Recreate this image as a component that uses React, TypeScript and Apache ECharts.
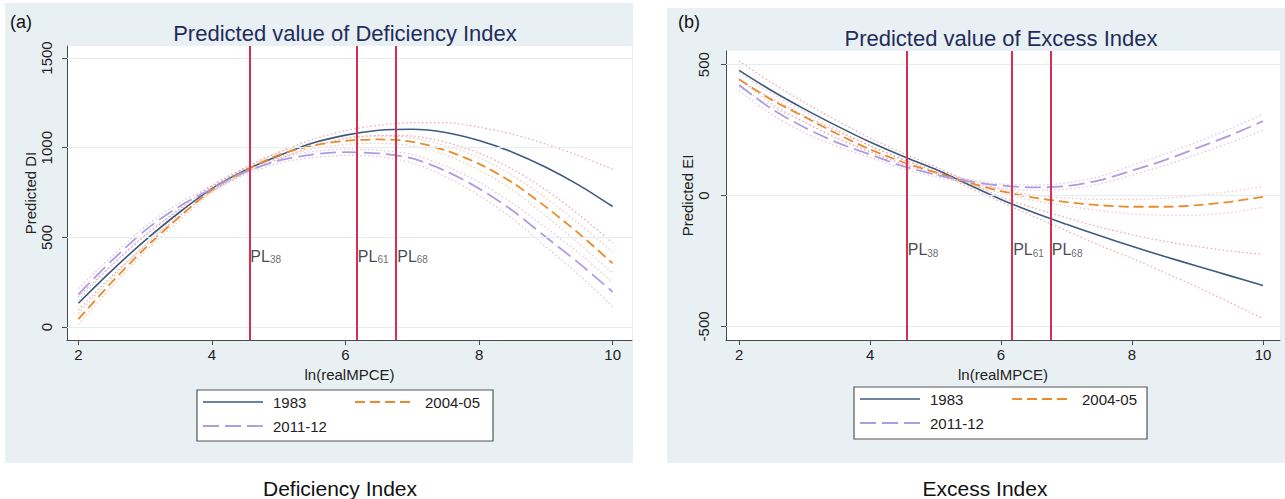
import React, { useEffect, useRef } from "react";
import * as echarts from "echarts";

// ---- data ----
const xs = [2, 2.5, 3, 3.5, 4, 4.5, 5, 5.5, 6, 6.5, 7, 7.5, 8, 8.5, 9, 9.5, 10];
const xTicks = [2, 4, 6, 8, 10];
const diTicks = [0, 500, 1000, 1500];
const eiTicks = [-500, 0, 500];
const povertyLines = [4.56, 6.17, 6.76];
const plLabels = ["38", "61", "68"];
const seriesNames = ["1983", "2004-05", "2011-12"];

// Deficiency Index (predicted + CI bounds)
const di1983 = [133, 315, 483, 636, 772, 875, 955, 1025, 1070, 1097, 1103, 1085, 1040, 975, 891, 790, 672];
const di2004 = [44, 250, 440, 610, 765, 872, 960, 1010, 1038, 1046, 1033, 985, 910, 805, 670, 520, 355];
const di2011 = [183, 370, 539, 670, 772, 865, 928, 962, 975, 968, 940, 870, 772, 650, 502, 355, 196];
const di1983Hi = [170, 345, 510, 655, 790, 890, 975, 1045, 1095, 1125, 1140, 1140, 1115, 1075, 1020, 955, 880];
const di1983Lo = [95, 285, 455, 615, 755, 860, 935, 1005, 1050, 1068, 1065, 1030, 970, 880, 765, 625, 470];
const di2004Hi = [75, 275, 460, 630, 780, 888, 975, 1028, 1058, 1065, 1055, 1010, 945, 845, 720, 575, 420];
const di2004Lo = [15, 225, 420, 590, 750, 858, 945, 992, 1018, 1025, 1010, 960, 875, 765, 620, 465, 300];
const di2011Hi = [215, 395, 560, 690, 785, 880, 942, 978, 992, 985, 962, 897, 808, 690, 555, 410, 250];
const di2011Lo = [150, 345, 515, 650, 760, 850, 913, 945, 957, 950, 915, 838, 735, 605, 448, 290, 115];

// Excess Index (predicted + CI bounds)
const ei1983 = [478, 400, 330, 265, 204, 150, 100, 42, -15, -65, -110, -153, -194, -233, -270, -307, -344];
const ei2004 = [444, 365, 300, 235, 176, 128, 88, 50, 17, -8, -25, -37, -43, -43, -37, -24, -5];
const ei2011 = [422, 330, 260, 202, 157, 112, 80, 55, 38, 31, 36, 58, 95, 135, 182, 230, 284];
const ei1983Hi = [514, 430, 355, 285, 220, 162, 110, 52, -5, -48, -85, -120, -150, -175, -195, -212, -225];
const ei1983Lo = [440, 370, 305, 245, 190, 137, 90, 32, -25, -80, -135, -190, -240, -295, -350, -410, -470];
const ei2004Hi = [470, 390, 320, 252, 190, 140, 100, 60, 25, 2, -10, -15, -15, -10, 0, 15, 35];
const ei2004Lo = [415, 340, 280, 218, 165, 118, 80, 42, 10, -20, -40, -58, -70, -75, -75, -65, -45];
const ei2011Hi = [445, 350, 280, 218, 168, 122, 88, 62, 44, 40, 48, 72, 115, 158, 205, 255, 310];
const ei2011Lo = [400, 310, 240, 187, 146, 103, 72, 48, 28, 20, 24, 44, 78, 115, 158, 202, 250];

const diPLy = 394;
const eiPLy = -207;

// ---- styles ----
const FONT = "'Liberation Sans', Arial, sans-serif";
const NAVY = "#3c5b7f";
const ORANGE = "#ea8a2b";
const LAV = "#ab9de2";
const RED = "#d62f52";
const AXIS = "#4a4a4a";
const TXT = "#222";
const CI_COLORS = ["rgba(214,90,110,0.55)", "rgba(226,140,120,0.5)", "rgba(200,130,190,0.5)"];
const MAIN_STYLES = [
  { color: NAVY, width: 1.6, type: "solid" as any },
  { color: ORANGE, width: 1.8, type: [10, 5] as any },
  { color: LAV, width: 1.8, type: [16, 6] as any },
];

const pairs = (ys: number[]) => xs.map((x, i) => [x, ys[i]]);

function buildSeries(
  idx: number,
  mains: number[][],
  cis: number[][][],
  ticks: number[],
  plY: number
) {
  const out: any[] = [];
  out.push({
    type: "line",
    xAxisIndex: idx,
    yAxisIndex: idx,
    data: [],
    silent: true,
    z: 1,
    markLine: {
      silent: true,
      symbol: "none",
      label: { show: false },
      lineStyle: { color: "#e4edf1", width: 1, type: "solid" },
      data: ticks.map((t) => ({ yAxis: t })),
    },
  });
  cis.forEach((pair, k) => {
    pair.forEach((ys) => {
      out.push({
        type: "line",
        xAxisIndex: idx,
        yAxisIndex: idx,
        data: pairs(ys),
        smooth: 0.3,
        symbol: "none",
        silent: true,
        z: 2,
        lineStyle: { color: CI_COLORS[k], width: 1.2, type: [1.5, 2.5] },
      });
    });
  });
  mains.forEach((ys, k) => {
    out.push({
      type: "line",
      name: seriesNames[k],
      xAxisIndex: idx,
      yAxisIndex: idx,
      data: pairs(ys),
      smooth: 0.3,
      symbol: "none",
      z: 3,
      lineStyle: MAIN_STYLES[k],
    });
  });
  out.push({
    type: "scatter",
    xAxisIndex: idx,
    yAxisIndex: idx,
    symbolSize: 0,
    z: 6,
    data: povertyLines.map((p, i) => ({ value: [p, plY], sub: plLabels[i] })),
    label: {
      show: true,
      position: "right",
      distance: 1,
      formatter: (p: any) => `{a|PL}{b|${p.data.sub}}`,
      rich: {
        a: { fontSize: 16, color: "#15152a", fontFamily: FONT },
        b: { fontSize: 10, color: "#444", fontFamily: FONT, padding: [7, 0, 0, 0] },
      },
    },
    markLine: {
      silent: true,
      symbol: "none",
      label: { show: false },
      lineStyle: { color: RED, width: 2, type: "solid" },
      data: povertyLines.map((p) => ({ xAxis: p })),
    },
  });
  return out;
}

function xAxisCfg(idx: number, min: number, max: number) {
  return {
    gridIndex: idx,
    type: "value",
    min,
    max,
    name: "ln(realMPCE)",
    nameLocation: "middle",
    nameGap: 24,
    nameTextStyle: { fontSize: 15, color: TXT, fontFamily: FONT },
    axisLine: { show: true, onZero: false, lineStyle: { color: AXIS, width: 1 } },
    axisTick: { show: true, customValues: xTicks, length: 5, lineStyle: { color: AXIS } },
    axisLabel: { customValues: xTicks, fontSize: 15, color: TXT, margin: 7, fontFamily: FONT },
    splitLine: { show: false },
  };
}

function yAxisCfg(idx: number, min: number, max: number, ticks: number[], name: string, margin: number, gap: number) {
  return {
    gridIndex: idx,
    type: "value",
    min,
    max,
    name,
    nameLocation: "middle",
    nameGap: gap,
    nameTextStyle: { fontSize: 15, color: TXT, fontFamily: FONT },
    axisLine: { show: true, onZero: false, lineStyle: { color: AXIS, width: 1 } },
    axisTick: { show: true, customValues: ticks, length: 5, lineStyle: { color: AXIS } },
    axisLabel: {
      customValues: ticks,
      fontSize: 15,
      color: TXT,
      margin,
      rotate: 90,
      fontFamily: FONT,
      formatter: (v: number) => String(v),
    },
    splitLine: { show: false },
  };
}

function legendGraphic(x: number, y: number, w: number, h: number) {
  const row1 = y + 12;
  const row2 = y + 36;
  const c1 = x + 6;
  const c2 = x + 158;
  const items: any[] = [
    { type: "rect", shape: { x, y, width: w, height: h }, style: { fill: "#fff", stroke: "#555", lineWidth: 1.2 } },
  ];
  const pos = [
    [c1, row1],
    [c2, row1],
    [c1, row2],
  ];
  seriesNames.forEach((n, k) => {
    const [lx, ly] = pos[k];
    items.push({
      type: "line",
      shape: { x1: lx, y1: ly, x2: lx + 60, y2: ly },
      style: { stroke: MAIN_STYLES[k].color, lineWidth: MAIN_STYLES[k].width, lineDash: k === 0 ? null : MAIN_STYLES[k].type },
    });
    items.push({
      type: "text",
      x: lx + 70,
      y: ly,
      style: { text: n, fontSize: 15, fill: TXT, fontFamily: FONT, verticalAlign: "middle", align: "left" },
    });
  });
  return items;
}

const App: React.FC = () => {
  const ref = useRef<HTMLDivElement>(null);
  useEffect(() => {
    if (!ref.current) return;
    const chart = echarts.init(ref.current, undefined, { renderer: "svg" });
    const option: any = {
      animation: false,
      textStyle: { fontFamily: FONT },
      grid: [
        { left: 67, top: 46, width: 565, height: 294, show: true, backgroundColor: "#fff", borderWidth: 0, z: 0 },
        { left: 726, top: 51, width: 554, height: 289, show: true, backgroundColor: "#fff", borderWidth: 0, z: 0 },
      ],
      xAxis: [xAxisCfg(0, 1.83, 10.29), xAxisCfg(1, 1.8, 10.26)],
      yAxis: [
        yAxisCfg(0, -72, 1567, diTicks, "Predicted DI", 13, 27),
        yAxisCfg(1, -552, 552, eiTicks, "Predicted EI", 15, 26),
      ],
      graphic: [
        { type: "rect", z: -10, shape: { x: 5, y: 3, width: 628, height: 460 }, style: { fill: "#e9f0f3" } },
        { type: "rect", z: -10, shape: { x: 667, y: 8, width: 618, height: 455 }, style: { fill: "#e9f0f3" } },
        { type: "text", x: 10, y: 22, style: { text: "(a)", fontSize: 18, fill: "#111", fontFamily: FONT, verticalAlign: "middle" } },
        { type: "text", x: 678, y: 22, style: { text: "(b)", fontSize: 18, fill: "#111", fontFamily: FONT, verticalAlign: "middle" } },
        { type: "text", x: 345, y: 33, style: { text: "Predicted value of Deficiency Index", fontSize: 22, fill: "#1f2d5c", fontFamily: FONT, align: "center", verticalAlign: "middle" } },
        { type: "text", x: 1001, y: 38, style: { text: "Predicted value of Excess Index", fontSize: 22, fill: "#1f2d5c", fontFamily: FONT, align: "center", verticalAlign: "middle" } },
        { type: "text", x: 340, y: 488, style: { text: "Deficiency Index", fontSize: 21, fill: "#111", fontFamily: FONT, align: "center", verticalAlign: "middle" } },
        { type: "text", x: 985, y: 488, style: { text: "Excess Index", fontSize: 21, fill: "#111", fontFamily: FONT, align: "center", verticalAlign: "middle" } },
        { type: "group", children: legendGraphic(197, 390, 296, 51) },
        { type: "group", children: legendGraphic(854, 387, 293, 52) },
      ],
      series: [
        ...buildSeries(0, [di1983, di2004, di2011], [[di1983Hi, di1983Lo], [di2004Hi, di2004Lo], [di2011Hi, di2011Lo]], diTicks, diPLy),
        ...buildSeries(1, [ei1983, ei2004, ei2011], [[ei1983Hi, ei1983Lo], [ei2004Hi, ei2004Lo], [ei2011Hi, ei2011Lo]], eiTicks, eiPLy),
      ],
    };
    chart.setOption(option);
    return () => chart.dispose();
  }, []);
  return (
    <div
      ref={ref}
      style={{ position: "fixed", left: 0, top: 0, width: 1285, height: 499, background: "#fff" }}
    />
  );
};

export default App;
